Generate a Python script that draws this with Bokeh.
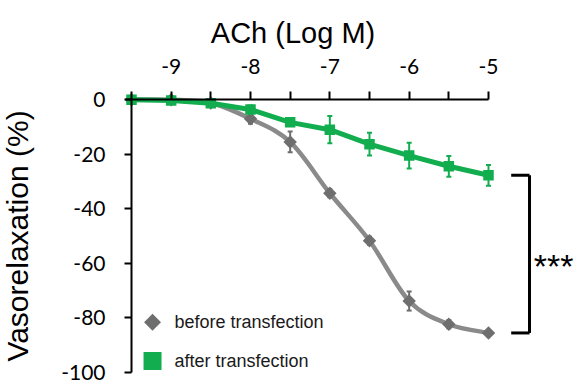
from bokeh.plotting import figure
from bokeh.models import LinearAxis, FixedTicker, Range1d, Label
from bokeh.embed import file_html
from bokeh.resources import INLINE
from bokeh.core.properties import value
import math

# ---- data ----
conc = [-9.5, -9.0, -8.5, -8.0, -7.5, -7.0, -6.5, -6.0, -5.5, -5.0]
before = [0.0, 0.0, -1.2, -7.0, -15.5, -34.3, -51.7, -73.8, -82.3, -85.5]
before_err = [0.3, 0.3, 0.8, 1.8, 3.8, 1.5, 1.5, 3.5, 1.5, 1.0]
after = [0.0, -0.3, -1.3, -3.6, -8.3, -11.0, -16.3, -20.5, -24.4, -27.7]
after_err = [0.3, 0.5, 0.8, 1.5, 1.3, 5.0, 4.2, 4.7, 3.8, 3.8]

x_ticks = [-9.5, -9.0, -8.5, -8.0, -7.5, -7.0, -6.5, -6.0, -5.5, -5.0]
x_tick_labels = ["", "-9", "", "-8", "", "-7", "", "-6", "", "-5"]
y_ticks = [0, -20, -40, -60, -80, -100]
y_tick_labels = ["0", "-20", "-40", "-60", "-80", "-100"]

series_names = ["before transfection", "after transfection"]
significance = "***"

GRAY_LINE = "#8a8a8a"
GRAY_MARK = "#6e6e6e"
GREEN = "#12ad4f"
TICK_FONT = "Lato"

p = figure(width=579, height=386, output_backend="svg", toolbar_location=None,
           x_range=Range1d(-11.1513, -3.8529), y_range=Range1d(-105.13, 36.36),
           x_axis_type=None, y_axis_type=None,
           min_border_left=0, min_border_right=0, min_border_top=0, min_border_bottom=0)
p.outline_line_color = None
p.xgrid.visible = False
p.ygrid.visible = False
p.background_fill_color = "white"

# ---- smooth gray curve (Catmull-Rom -> bezier) ----
n = len(conc)
x0, y0, x1, y1, cx0, cy0, cx1, cy1 = [], [], [], [], [], [], [], []
for i in range(n - 1):
    pm = (conc[max(i - 1, 0)], before[max(i - 1, 0)])
    p0 = (conc[i], before[i])
    p1 = (conc[i + 1], before[i + 1])
    p2 = (conc[min(i + 2, n - 1)], before[min(i + 2, n - 1)])
    x0.append(p0[0]); y0.append(p0[1]); x1.append(p1[0]); y1.append(p1[1])
    cx0.append(p0[0] + (p1[0] - pm[0]) / 6.0); cy0.append(p0[1] + (p1[1] - pm[1]) / 6.0)
    cx1.append(p1[0] - (p2[0] - p0[0]) / 6.0); cy1.append(p1[1] - (p2[1] - p0[1]) / 6.0)
p.bezier(x0=x0, y0=y0, x1=x1, y1=y1, cx0=cx0, cy0=cy0, cx1=cx1, cy1=cy1,
         line_color=GRAY_LINE, line_width=4.5)

b_lo = [v - e for v, e in zip(before, before_err)]
b_hi = [v + e for v, e in zip(before, before_err)]
p.segment(x0=conc, y0=b_lo, x1=conc, y1=b_hi, line_color=GRAY_MARK, line_width=2)
p.scatter(conc, b_lo, marker="dash", size=5, line_color=GRAY_MARK, line_width=2)
p.scatter(conc, b_hi, marker="dash", size=5, line_color=GRAY_MARK, line_width=2)
p.scatter(conc, before, marker="square", angle=math.pi / 4, size=9.5,
          fill_color=GRAY_MARK, line_color=None)

# ---- green series ----
p.line(conc, after, line_color=GREEN, line_width=5)
a_lo = [v - e for v, e in zip(after, after_err)]
a_hi = [v + e for v, e in zip(after, after_err)]
p.segment(x0=conc, y0=a_lo, x1=conc, y1=a_hi, line_color=GREEN, line_width=2)
p.scatter(conc, a_lo, marker="dash", size=5, line_color=GREEN, line_width=2)
p.scatter(conc, a_hi, marker="dash", size=5, line_color=GREEN, line_width=2)
p.scatter(conc, after, marker="square", size=10.5, fill_color=GREEN, line_color=None)

# ---- axes ----
xax = LinearAxis(fixed_location=0, ticker=FixedTicker(ticks=x_ticks),
                 bounds=(-9.576, -5.0))
xax.major_label_overrides = {t: l for t, l in zip(x_ticks, x_tick_labels)}
xax.major_tick_out = 8
xax.major_tick_in = 0
xax.minor_tick_out = 0
xax.minor_tick_in = 0
xax.major_label_standoff = 18
xax.major_label_text_font = TICK_FONT
xax.major_label_text_font_size = "21px"
xax.major_label_text_color = "black"
xax.axis_line_width = 2
xax.major_tick_line_width = 2
xax.axis_line_color = "black"
xax.major_tick_line_color = "black"
p.add_layout(xax, "above")

yax = LinearAxis(fixed_location=-9.5, ticker=FixedTicker(ticks=y_ticks), bounds=(-100, 0))
yax.major_label_overrides = {t: l for t, l in zip(y_ticks, y_tick_labels)}
yax.major_tick_out = 7
yax.major_tick_in = 0
yax.minor_tick_out = 0
yax.minor_tick_in = 0
yax.major_label_standoff = 19
yax.major_label_text_font = TICK_FONT
yax.major_label_text_font_size = "21px"
yax.major_label_text_color = "black"
yax.axis_line_width = 2
yax.major_tick_line_width = 2
yax.axis_line_color = "black"
yax.major_tick_line_color = "black"
yax.axis_label = "Vasorelaxation (%)"
yax.axis_label_text_font = "Liberation Sans"
yax.axis_label_text_font_size = "30px"
yax.axis_label_text_font_style = "normal"
yax.axis_label_text_color = "black"
yax.axis_label_standoff = 24
p.add_layout(yax, "left")

p.add_layout(Label(x=-7.464, y=24.3, text="ACh (Log M)", text_align="center",
                   text_baseline="alphabetic", text_font="Liberation Sans",
                   text_font_size="29px", text_color="black"))

# ---- legend (manual) ----
leg_x = [-9.235]
p.scatter(leg_x, [-81.6], marker="square", angle=math.pi / 4, size=12,
          fill_color=GRAY_MARK, line_color=None)
p.scatter(leg_x, [-95.8], marker="square", size=18, fill_color=GREEN, line_color=None)
p.text(x=[-8.958, -8.958], y=[-81.6, -95.8], text=series_names,
       text_font=value("Liberation Sans"), text_font_size="18px",
       text_baseline="middle", text_align="left", text_color="#1a1a1a")

# ---- significance bracket ----
bx_in = -4.714
bx_v = -4.483
p.segment(x0=[bx_in, bx_in, bx_v], y0=[after[-1], before[-1], after[-1]],
          x1=[bx_v, bx_v, bx_v], y1=[after[-1], before[-1], before[-1]],
          line_color="black", line_width=3)
p.text(x=[-4.43], y=[-61.0], text=[significance], text_font=value("Liberation Sans"),
       text_font_size="34px", text_baseline="alphabetic", text_align="left",
       text_color="black")

open("out.html", "w").write(file_html(p, INLINE))
